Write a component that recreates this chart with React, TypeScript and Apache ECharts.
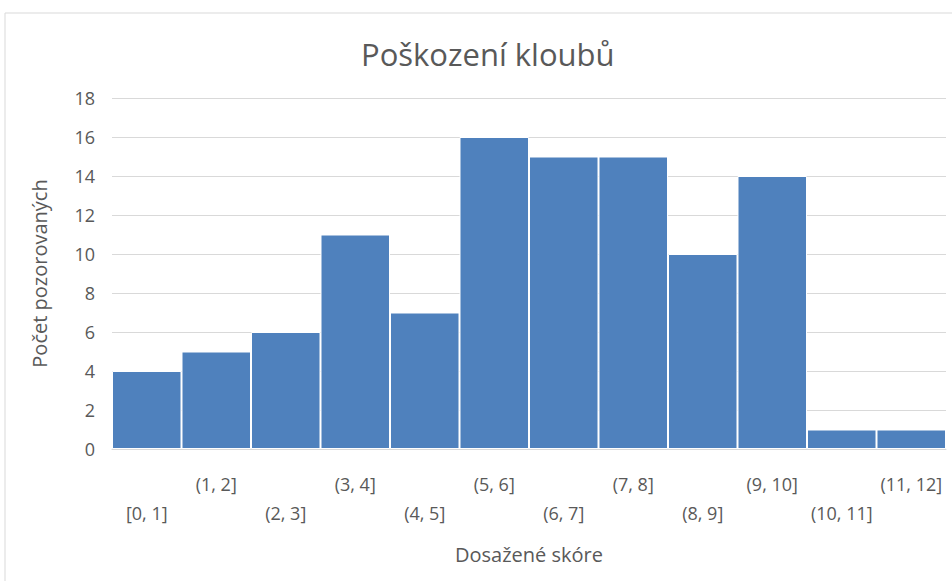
import React, { useEffect, useRef } from "react";
import * as echarts from "echarts";

const categories = ["[0, 1]", "(1, 2]", "(2, 3]", "(3, 4]", "(4, 5]", "(5, 6]", "(6, 7]", "(7, 8]", "(8, 9]", "(9, 10]", "(10, 11]", "(11, 12]"];
const counts = [4, 5, 6, 11, 7, 16, 15, 15, 10, 14, 1, 1];
const chartTitle = "Poškození kloubů";
const xAxisTitle = "Dosažené skóre";
const yAxisTitle = "Počet pozorovaných";

const FONT = "'Open Sans', sans-serif";
const TEXT = "#595959";

export default function App() {
  const ref = useRef<HTMLDivElement>(null);
  useEffect(() => {
    if (!ref.current) return;
    const chart = echarts.init(ref.current, null, { renderer: "svg" });
    chart.setOption({
      animation: false,
      backgroundColor: "#ffffff",
      textStyle: { fontFamily: FONT },
      graphic: [
        {
          type: "rect",
          shape: { x: 5, y: 13, width: 980, height: 620 },
          style: { fill: "none", stroke: "#d9d9d9", lineWidth: 1 },
          silent: true,
        },
      ],
      title: {
        text: chartTitle,
        left: 356,
        top: 33,
        textStyle: { fontFamily: FONT, fontSize: 31, fontWeight: "normal", color: TEXT },
      },
      grid: { left: 112, right: 6, top: 98, bottom: 132, containLabel: false },
      xAxis: {
        type: "category",
        data: categories,
        name: xAxisTitle,
        nameLocation: "middle",
        nameGap: 95,
        nameTextStyle: { fontFamily: FONT, fontSize: 20, color: TEXT },
        axisLine: { show: true, lineStyle: { color: "#d9d9d9" } },
        axisTick: { show: false },
        axisLabel: {
          interval: 0,
          hideOverlap: false,
          margin: 20,
          fontFamily: FONT,
          fontSize: 18,
          color: TEXT,
          lineHeight: 29,
          verticalAlign: "top",
          formatter: (v: string, i: number) => (i % 2 === 0 ? "\n" + v : v),
        },
      },
      yAxis: {
        type: "value",
        min: 0,
        max: 18,
        interval: 2,
        name: yAxisTitle,
        nameLocation: "middle",
        nameGap: 63,
        nameRotate: 90,
        nameTextStyle: { fontFamily: FONT, fontSize: 20, color: TEXT },
        axisLine: { show: false },
        axisTick: { show: false },
        axisLabel: { margin: 17, fontFamily: FONT, fontSize: 18, color: TEXT },
        splitLine: { lineStyle: { color: "#d9d9d9", width: 1 } },
      },
      series: [
        {
          type: "bar",
          data: counts,
          barCategoryGap: "0%",
          itemStyle: { color: "#4F81BD", borderColor: "#ffffff", borderWidth: 1 },
        },
      ],
    });
    return () => chart.dispose();
  }, []);
  return (
    <div
      ref={ref}
      style={{ position: "absolute", left: 0, top: 0, width: 952, height: 581 }}
    />
  );
}
